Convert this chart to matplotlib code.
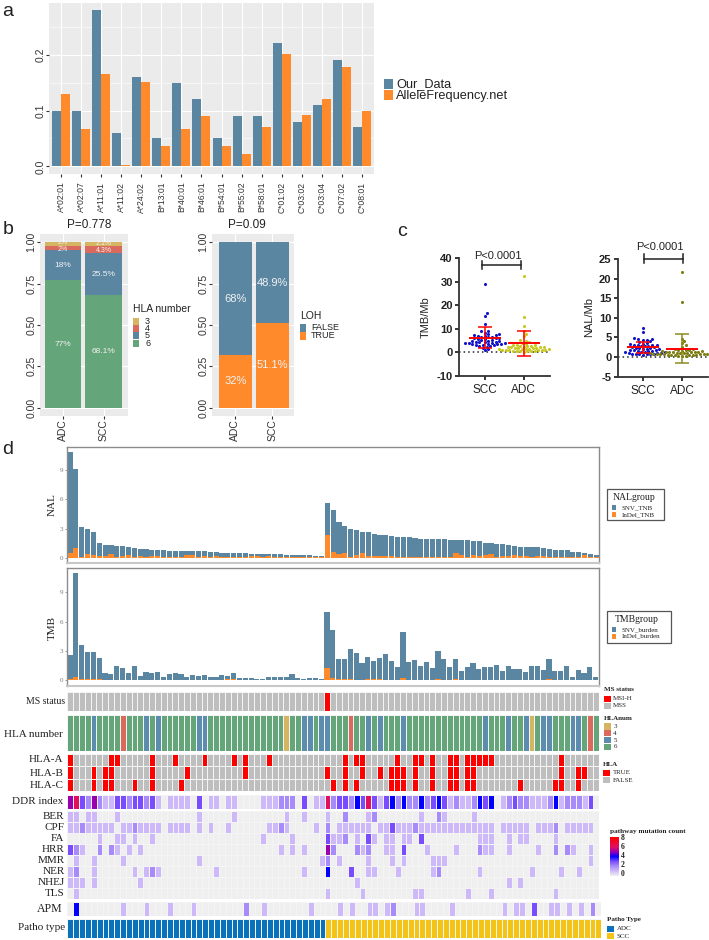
import matplotlib
matplotlib.use("Agg")
import matplotlib.pyplot as plt
import numpy as np
from matplotlib.colors import ListedColormap, BoundaryNorm, LinearSegmentedColormap, Normalize
from matplotlib.patches import Rectangle

W, H = 709, 940
plt.rcParams['font.family'] = ['Liberation Sans', 'DejaVu Sans']
SERIF = ['Liberation Serif', 'DejaVu Serif']
BLUE, ORANGE = '#5A86A2', '#FE8A2C'
TXT = '#333333'

# ---------- panel a
alleles = ["A*02:01","A*02:07","A*11:01","A*11:02","A*24:02","B*13:01","B*40:01","B*46:01",
           "B*54:01","B*55:02","B*58:01","C*01:02","C*03:02","C*03:04","C*07:02","C*08:01"]
our_data = [.100,.100,.280,.060,.160,.050,.150,.120,.050,.090,.090,.220,.080,.110,.190,.070]
allele_freq = [.130,.0675,.165,.003,.151,.036,.066,.090,.037,.022,.071,.202,.0925,.1205,.178,.099]

# ---------- panel b
groups = ["ADC", "SCC"]
hla_levels = ["3", "4", "5", "6"]
hla_six = [.77, .68]
hla_five = [.184, .255]
hla_four = [.024, .043]
hla_three = [.022, .021]
hla_six_lab = ["77%", "68.1%"]
hla_five_lab = ["18%", "25.5%"]
hla_four_lab = ["2%", "4.3%"]
hla_three_lab = ["2%", "2.1%"]
loh_true = [.32, .511]
loh_false = [.68, .489]
loh_true_lab = ["32%", "51.1%"]
loh_false_lab = ["68%", "48.9%"]

# ---------- panel c
tmb_scc = [29,16.5,15.3,12,9.2,8.9,8.4,7.9,7.6,7.4,7.2,7.0,6.9,6.7,6.5,6.4,6.2,6.0,5.9,5.7,5.5,5.4,5.2,5.0,4.9,4.8,4.6,4.5,4.4,4.2,
           4.1,4.0,3.9,3.8,3.7,3.6,3.5,3.4,3.3,3.2,3.0,2.9,2.7,2.5,2,1.5,1]
tmb_adc = [32.3,15,11,9,8,7,5.2,4.9,4.5,4.1,3.6,3.3,3.1,3.0,2.9,2.7,2.6,2.5,2.4,2.3,2.2,2.1,2.0,1.9,1.8,1.7,1.6,1.5,1.45,1.4,1.3,1.2,1.15,1.1,
           1.0,.9,.85,.8,.7,.6,.55,.5,.4,.3]
nal_scc = [7.3,6.5,4.8,4.6,4.5,4.4,4.3,4,3.8,3.6,3.4,3.3,3.2,3.1,3,3,2.9,2.8,2.7,2.6,2.5,2.4,2.3,2.2,2.1,2,2,
           1.9,1.8,1.7,1.6,1.5,1.5,1.4,1.3,1.2,1.2,1.1,1,1,.9,.9,.8,.8,.7,.7,.6]
nal_adc = [21.7,14,4.7,4.1,3.5,3,2.6,2.1,2,1.9,1.8,1.7,1.6,1.5,1.5,1.4,1.4,1.3,1.3,1.2,1.2,1.1,1.1,1,1,1,
           .9,.9,.9,.8,.8,.8,.7,.7,.7,.6,.6,.6,.5,.5,.5,.4,.4,.3]
tmb_mean, tmb_up, tmb_lo = [6.2, 3.8], [10.8, 9.1], [1.7, -1.5]
nal_mean, nal_up, nal_lo = [2.55, 2.0], [3.9, 5.8], [1.1, -1.6]

# ---------- panel d bars
nal_total = [10.9,9.1,3.2,2.9,2.6,1.55,1.3,1.3,1.25,1.25, 1.1,1.0,.88,.85,.8,.78,.75,.72,.72,.72,
             .7,.68,.68,.65,.6,.55,.5,.5,.48,.46, .45,.4,.38,.36,.36,.36,.34,.3,.28,.26, .25,.24,.18,.15,
             5.6,4.85,3.65,3.3,2.95,2.8,2.65,2.6,2.4,2.35, 2.35,2.25,2.15,2.1,2.1,2.0,1.95,1.9,1.9,1.9,
             1.88,1.85,1.85,1.85,1.8,1.75,1.7,1.5,1.47,1.44, 1.37,1.3,1.17,1.13,1.1,1.06,1.06,.96,.85,.82,
             .78,.75,.62,.62,.48,.42,.25]
nal_indel = [.45,1.05,.1,.4,.3,.2,.15,.4,.1,.2, .3,.08,.15,.12,.2,.18,.05,.03,.05,.03,
             .25,.3,.05,.2,.05,.2,.1,.1,.05,.1, .05,.2,.15,.05,.2,.03,.03,.03,.1,.1, .05,.1,.1,.03,
             2.3,.6,.35,.5,.08,.3,.45,.2,.2,.15, .2,.15,.1,.1,.08,.08,.1,.08,.1,.05,
             .05,.08,.5,.25,.08,.25,.2,.25,.4,.08, .15,.15,.25,.2,.2,.1,.15,.15,.1,.1,
             .1,.1,.1,.05,.25,.03,.05]
tmb_total = [2.6,10.95,3.6,2.85,2.85,2.3,.7,.65,1.5,1.25, .72,1.45,.45,.88,.8,.87,.38,.68,.72,.68,
             .3,.55,.4,.5,.33,.33,.55,.45,.7,.27, .23,.23,.17,.17,.33,.33,.3,.38,.6,.28, .15,.28,.22,.13,
             6.95,5.1,2.15,2.15,3.2,2.75,1.8,2.4,1.95,2.25, 2.65,2.0,1.4,4.95,1.9,2.05,1.45,1.85,1.25,2.95,
             2.2,1.4,2.15,1.0,1.4,1.75,1.15,1.4,1.35,1.55, 1.0,1.45,1.2,1.15,.9,1.45,1.45,1.1,2.2,1.0,
             1.0,1.5,.35,1.1,.8,1.4,.3]
tmb_indel = [.12,.3,.12,.1,.12,.1,.04,.04,.04,.04, .04,.04,.04,.04,.04,.04,.03,.03,.03,.03,
             .03,.03,.03,.03,.03,.03,.03,.1,.1,.03, .03,.03,.03,.03,.03,.03,.03,.03,.03,.03, .03,.03,.03,.03,
             1.3,.2,.12,.1,.1,.05,.05,.1,.1,.1, .08,.05,.05,.2,.05,.05,.05,.05,.05,.12,
             .05,.05,.15,.05,.05,.05,.05,.05,.05,.05, .05,.05,.05,.05,.03,.05,.05,.05,.12,.03,
             .03,.03,.03,.03,.03,.03,.03]
nal_ticks = [0, 3, 6, 9]

# ---------- panel d tiles (columns with a non-default value)
n_adc, n_scc = 44, 47
msi_cols = [44]
hla3_cols = [37, 79]
hla4_cols = [9, 48, 89]
hla5_cols = [4,13,15,22,23,40,41,43,44,51,53,57,71,75,78,81,82,86,87]
hla_a_cols = [0,7,8,14,18,23,28,30,34,47,49,50,56,59,60,62,65,66,68,69,70,71,72,84]
hla_b_cols = [0,4,6,7,14,20,30,44,47,50,53,55,56,57,59,62,65,66,68,69,84,87,88]
hla_c_cols = [0,4,6,7,11,14,19,45,47,49,55,56,57,59,62,65,66,68,69,77,83,84,87]
ddr_index = [5,6,3,2,5,2,1,1,3,3, 2,3,3,2,3,1,0,1,1,1, 1,0,3,0,1,1,0,1,1,0, 0,0,0,1,1,1,2,2,2,0,
             3,0,1,1,6,2,3,3,2,4, 3,6,3,1,3,4,2,4,2,2, 4,2,3,4,3,1,2,1,1,2, 4,3,4,0,1,2,3,2,2,1,
             1,1,2,4,1,2,2,2,1,3, 0]
ber = {0:1,1:1,3:1,4:1,8:1,22:1,28:1,37:1,40:1,44:1,47:2,51:1,52:2,60:1,63:2,64:1,69:1}
cpf = {0:1,1:1,2:2,3:1,4:1,5:1,6:1,7:1,9:1,10:1,11:2,12:1,13:1,14:1,15:1,17:1,18:1,19:1,20:1,22:1,24:1,27:1,
       34:1,35:1,36:2,37:1,42:1,44:2,46:1,47:1,48:1,49:1,50:1,51:1,53:1,54:1,55:3,56:1,57:1,58:1,59:2,
       60:1,61:1,62:1,63:1,64:1,65:1,66:1,67:1,68:1,69:1,70:1,71:1,72:1,74:1,75:1,76:1,77:1,78:1,
       80:1,81:1,82:1,83:2,85:1,86:1,87:1,88:1,89:1}
fa = {5:1,8:1,9:1,11:1,14:1,33:1,38:1,44:3,45:1,46:1,47:2,49:1,51:3,52:1,54:1,55:1,57:1,58:1,60:3,70:1,71:1,72:1,
      75:1,77:1,78:1,83:1}
hrr = {0:3,1:2,2:1,5:2,7:2,8:1,10:1,12:1,36:1,38:1,40:1,44:5,45:2,49:2,50:1,51:2,54:1,55:1,57:3,61:1,66:1,70:2,
       71:1,72:1,75:1,80:1,83:2,85:2,86:1,89:1}
mmr = {1:1,4:1,9:1,22:1,43:1,44:2,46:1,51:1,55:1,57:1,62:1,63:1,64:1,89:1}
ner = {0:1,1:2,4:1,11:1,13:1,14:2,15:1,25:1,40:1,44:4,48:3,51:1,52:1,56:1,62:1,63:2,70:1,79:1,84:1,87:1}
nhej = {0:1,1:1,2:1,4:1,12:1,49:1,75:1,77:1}
tls = {1:1,44:1,50:1,59:1,60:1,68:1,72:1,83:1}
apm = {1:4,9:1,13:1,17:1,21:1,30:2,33:1,41:1,46:1,48:1,51:1,52:1,54:1,55:2,59:1,60:1,65:1,74:1,76:1,77:1,79:3,
       82:1,83:1,85:1,87:1,89:2}
path_names = ["BER", "CPF", "FA", "HRR", "MMR", "NER", "NHEJ", "TLS"]
path_rows = [ber, cpf, fa, hrr, mmr, ner, nhej, tls]

fig = plt.figure(figsize=(W/100, H/100), dpi=100, facecolor='white')

def ax_px(l, t, r, b, **kw):
    return fig.add_axes([l/W, 1-b/H, (r-l)/W, (b-t)/H], **kw)

def gg(ax):
    ax.set_facecolor('#EBEBEB')
    for s in ax.spines.values():
        s.set_visible(False)
    ax.set_axisbelow(True)
    ax.grid(True, axis='y', color='white', lw=.8)
    ax.grid(True, axis='x', color='white', lw=.8)

# a
ax = ax_px(49, 3, 374, 174)
gg(ax)
x = np.arange(1, len(alleles)+1)
ax.bar(x-.225, our_data, .45, color=BLUE)
ax.bar(x+.225, allele_freq, .45, color=ORANGE)
ax.set_xlim(.4, 16.6)
ax.set_ylim(-.0137, .2925)
ax.set_yticks([0, .1, .2])
ax.set_yticks([.05, .15, .25], minor=True)
ax.grid(True, axis='y', which='minor', color='white', lw=.4)
ax.set_yticklabels(["0.0", "0.1", "0.2"], rotation=90, va='center', fontsize=7.5, color=TXT)
ax.set_xticks(x)
ax.set_xticklabels(alleles, rotation=90, fontsize=6.2, color=TXT)
ax.tick_params(axis='x', length=2, color=TXT, pad=3.5)
ax.tick_params(axis='y', length=2, color=TXT, pad=.5)
ax.tick_params(which='minor', length=0)

# b
def stacked(ax, rows, colors, labels, fs, nudges=None):
    bottom = np.zeros(2)
    nudges = nudges or [0]*len(rows)
    for vals, c, labs, nd in zip(rows, colors, labels, nudges):
        vals = np.array(vals)
        ax.bar([1, 2], vals, .9, bottom=bottom, color=c)
        for i in range(2):
            size = fs if vals[i] > .1 else fs-1
            ax.text(i+1, bottom[i]+vals[i]/2+nd, labs[i], color='#F2F2F2', fontsize=size, ha='center', va='center')
        bottom += vals
    ax.set_ylim(-.05, 1.05)
    ax.set_xticks([1, 2])
    ax.set_xticklabels(groups, rotation=90, fontsize=7.5, color=TXT)
    ax.set_yticks([0, .25, .5, .75, 1])
    ax.set_yticklabels(["0.00", "0.25", "0.50", "0.75", "1.00"], rotation=90, va='center', fontsize=7.5, color=TXT)
    ax.tick_params(length=2, color=TXT, pad=.5)

ax = ax_px(40, 234, 128, 416)
gg(ax)
stacked(ax, [hla_six, hla_five, hla_four, hla_three], ['#65A57A', BLUE, '#DA6A5E', '#D6B562'],
        [hla_six_lab, hla_five_lab, hla_four_lab, hla_three_lab], 6, [0, 0, -.007, .007])
ax.set_xlim(.43, 2.6)

ax = ax_px(212, 234, 294, 416)
gg(ax)
stacked(ax, [loh_true, loh_false], [ORANGE, BLUE], [loh_true_lab, loh_false_lab], 8)
ax.set_xlim(.37, 2.58)

# c
def swarm(vals, ypx, xpx, d=3.6):
    order = np.argsort(vals)
    placed = []
    out = np.zeros(len(vals))
    for i in order:
        yy = vals[i]*ypx
        for k in range(0, 40):
            off = ((k+1)//2) * (1 if k % 2 else -1) * d * .5
            if all((off-a)**2 + (yy-b)**2 >= (d*.8)**2 for a, b in placed):
                break
        placed.append((off, yy))
        out[i] = off/xpx
    return out

def dotplot(ax, scc, adc, means, ups, los, cadc, cerr, ypx):
    for pos, vals, c, ec in ((1, scc, '#1414C8', 'red'), (2, adc, cadc, cerr)):
        vals = np.array(vals, float)
        ax.scatter(pos+swarm(vals, ypx, 39), vals, s=5, color=c, lw=0, zorder=3)
        m, u, l = means[pos-1], ups[pos-1], los[pos-1]
        ax.errorbar(pos, m, yerr=[[m-l], [u-m]], color=ec, lw=1.1, capsize=4.8, capthick=1.1, zorder=4)
        ax.hlines(m, pos-.41, pos+.41, color='red', lw=1.4, zorder=5)
    ax.axhline(0, color='#222222', lw=1.1, ls=(0, (1, 2)), zorder=1)
    for s in ('top', 'right'):
        ax.spines[s].set_visible(False)
    for s in ('left', 'bottom'):
        ax.spines[s].set_linewidth(1.3)
        ax.spines[s].set_color('#333333')
    ax.set_xticks([1, 2])
    ax.set_xticklabels(["SCC", "ADC"], fontsize=8.5, color='#222222')
    ax.tick_params(axis='x', length=3, width=1.1, pad=3)
    ax.tick_params(axis='y', length=3, width=1.1, pad=1.5)
    ax.patch.set_alpha(0)

ax = ax_px(459, 258, 550, 376)
dotplot(ax, tmb_scc, tmb_adc, tmb_mean, tmb_up, tmb_lo, '#C8C81E', 'red', 118/50)
ax.set_xlim(.341, 2.674)
ax.set_ylim(-10, 40)
ax.set_yticks([-10, 0, 10, 20, 30, 40])
ax.set_yticklabels(["-10", "0", "10", "20", "30", "40"], fontsize=8, fontweight='bold', color='#222222')
ax.plot([.93, 1.93], [36.9, 36.9], color='#222222', lw=1.1, clip_on=False)
for xb in (.93, 1.93):
    ax.plot([xb, xb], [35.2, 38.6], color='#222222', lw=1.1, clip_on=False)

ax = ax_px(617.7, 259, 708, 376.7)
dotplot(ax, nal_scc, nal_adc, nal_mean, nal_up, nal_lo, '#7E7E14', '#8A8A1E', 117.7/30)
ax.set_xlim(.351, 2.667)
ax.set_ylim(-5, 25)
ax.set_yticks([-5, 0, 5, 10, 15, 20, 25])
ax.set_yticklabels(["-5", "0", "5", "10", "15", "20", "25"], fontsize=8, fontweight='bold', color='#222222')
ax.plot([1.03, 2.03], [25.1, 25.1], color='#222222', lw=1.1, clip_on=False)
for xb in (1.03, 2.03):
    ax.plot([xb, xb], [24, 26.2], color='#222222', lw=1.1, clip_on=False)

# d bars
def burden(ax, total, indel, top, bottom):
    xs = np.arange(1, len(total)+1)
    total, indel = np.array(total), np.array(indel)
    ax.bar(xs, indel, .88, color=ORANGE)
    ax.bar(xs, total-indel, .88, bottom=indel, color=BLUE)
    ax.set_xlim(.436, 91.51)
    ax.set_ylim(bottom, top)
    ax.set_xticks([])
    ax.set_yticks(nal_ticks)
    ax.set_yticklabels([str(v) for v in nal_ticks], fontsize=5, color='#777777', family=SERIF)
    ax.tick_params(axis='y', length=1.5, width=.5, color='#777777', pad=1)
    for s in ax.spines.values():
        s.set_color('#8C8C8C')
        s.set_linewidth(1.0)
    ax.spines['bottom'].set_color('#C8C8C8')
    ax.spines['bottom'].set_linewidth(1.5)

burden(ax_px(66.7, 446.7, 599.3, 562.7), nal_total, nal_indel, 11.4, -.51)
burden(ax_px(66.7, 568.3, 598.7, 685.7), tmb_total, tmb_indel, 11.46, -.55)

# d tiles
n = n_adc + n_scc
def tiles(t, b, matrix, cmap, norm, r=598.7, l=67.3):
    ax = ax_px(l, t, r, b)
    m = np.atleast_2d(matrix)
    ax.pcolormesh(np.arange(n+1), np.arange(m.shape[0]+1), m, cmap=cmap, norm=norm,
                  edgecolors='#F4F4F4', linewidth=.55)
    ax.invert_yaxis()
    ax.set_axis_off()
    return ax

def flags(cols):
    v = np.zeros(n)
    v[list(cols)] = 1
    return v

two = ListedColormap(['#BEBEBE', '#FF0000'])
two_norm = BoundaryNorm([-.5, .5, 1.5], 2)
tiles(691.7, 711, flags(msi_cols), two, two_norm)

hla_num = np.full(n, 6.0)
hla_num[hla3_cols] = 3
hla_num[hla4_cols] = 4
hla_num[hla5_cols] = 5
tiles(715, 751, hla_num, ListedColormap(['#D6B562', '#DA6A5E', '#5C8CAE', '#65A57A']),
      BoundaryNorm([2.5, 3.5, 4.5, 5.5, 6.5], 4))
tiles(754, 791, np.vstack([flags(hla_a_cols), flags(hla_b_cols), flags(hla_c_cols)]), two, two_norm)

path_colors = [(0, '#EFEFEF'), (1/8, '#CDB9F9'), (2/8, '#A78BFA'), (3/8, '#7A4DFF'), (4/8, '#0000FF'),
               (5/8, '#9A00B0'), (6/8, '#E01060'), (1, '#FF0000')]
path_cmap = LinearSegmentedColormap.from_list('path', path_colors)
path_norm = Normalize(0, 8)

def sparse(d):
    v = np.zeros(n)
    for k, val in d.items():
        v[k] = val
    return v

tiles(795, 808.5, np.array(ddr_index, float), path_cmap, path_norm, r=599.3)
tiles(811, 899, np.vstack([sparse(d) for d in path_rows]), path_cmap, path_norm, r=599.3)
tiles(902.3, 915.7, sparse(apm), path_cmap, path_norm, r=601.3)
tiles(919.3, 938.3, np.r_[np.zeros(n_adc), np.ones(n_scc)],
      ListedColormap(['#0A72BA', '#F3C316']), two_norm, r=601.3)

# overlay for free text, legends
ov = ax_px(0, 0, W, H)
ov.set_xlim(0, W)
ov.set_ylim(H, 0)
ov.set_axis_off()
ov.patch.set_alpha(0)
ov.set_zorder(10)

def txt(x, y, s, size=8, ha='left', va='center', **kw):
    kw.setdefault('color', '#222222')
    ov.text(x, y, s, fontsize=size, ha=ha, va=va, **kw)

def key(x0, y0, x1, y1, c):
    ov.add_patch(Rectangle((x0, y0), x1-x0, y1-y0, color=c, lw=0))

for s, x0, y0 in (("a", 8, 11), ("b", 8, 230), ("c", 402, 231), ("d", 8, 449)):
    txt(x0, y0, s, 14, ha='center')

key(384, 79, 393, 89, BLUE); key(384, 90, 393, 100, ORANGE)
txt(396, 84.5, "Our_Data", 9.2); txt(396, 95.5, "AlleleFrequency.net", 9.2)

txt(89, 225, "P=0.778", 8.5, ha='center'); txt(247, 225, "P=0.09", 8.5, ha='center')
txt(133, 309, "HLA number", 7.5)
for i, (lab, c) in enumerate(zip(hla_levels, ['#D6B562', '#DA6A5E', BLUE, '#65A57A'])):
    key(133, 317.5+7.4*i, 139, 324.6+7.4*i, c)
    txt(145, 321+7.4*i, lab, 6.5)
txt(300, 316, "LOH", 7.5)
key(300, 324, 306, 331.6, BLUE); key(300, 332, 306, 340, ORANGE)
txt(311, 328, "FALSE", 6.5); txt(311, 336, "TRUE", 6.5)

txt(497.7, 256, "P<0.0001", 8, ha='center')
txt(660, 247, "P<0.0001", 8, ha='center')
txt(426, 317, "TMB/Mb", 8, ha='center', rotation=90)
txt(588.7, 317, "NAL/Mb", 8, ha='center', rotation=90)

sf = dict(family=SERIF)
txt(52, 505, "NAL", 8, ha='center', rotation=90, **sf)
txt(52, 628, "TMB", 8, ha='center', rotation=90, **sf)
txt(65, 701.7, "MS status", 7, ha='right', **sf)
txt(63, 734.5, "HLA number", 8, ha='right', **sf)
for lab, y0 in (("HLA-A", 760), ("HLA-B", 773), ("HLA-C", 785), ("DDR index", 801.5)):
    txt(63.5, y0, lab, 8, ha='right', **sf)
for i, lab in enumerate(path_names):
    txt(64.5, 816.5+11*i, lab, 8, ha='right', **sf)
txt(63, 909, "APM", 8.5, ha='right', **sf)
txt(65.5, 927.5, "Patho type", 8, ha='right', **sf)

# legends in d
ov.add_patch(Rectangle((607.3, 489), 56.7, 31, fc='white', ec='#555555', lw=.9))
txt(612.7, 497, "NALgroup", 7, **sf)
key(612, 505, 616.3, 510, BLUE); key(612, 512, 616.3, 517, ORANGE)
txt(622, 507.5, "SNV_TNB", 5, **sf); txt(622, 514.5, "InDel_TNB", 5, **sf)
ov.add_patch(Rectangle((607.3, 611.3), 63.4, 31.4, fc='white', ec='#555555', lw=.9))
txt(614.7, 619, "TMBgroup", 7, **sf)
key(612, 627, 616.3, 632, BLUE); key(612, 633.7, 616.3, 638.7, ORANGE)
txt(622, 629.5, "SNV_burden", 5, **sf); txt(622, 636, "InDel_burden", 5, **sf)

bold = dict(family=SERIF, fontweight='bold')
txt(603.7, 689.7, "MS status", 5, **bold)
key(603.7, 695.7, 611, 702.3, '#FF0000'); key(603.7, 702.7, 611, 709, '#BEBEBE')
txt(613.3, 699, "MSI-H", 5, **sf); txt(613.3, 705.7, "MSS", 5, **sf)
txt(603.7, 718, "HLAnum", 5, **bold)
for i, (lab, c) in enumerate(zip(hla_levels, ['#D6B562', '#DA6A5E', '#5C8CAE', '#65A57A'])):
    key(603.7, 723.3+6.8*i, 611, 729.6+6.8*i, c)
    txt(613.3, 726.5+6.8*i, lab, 5, **sf)
txt(602.7, 764, "HLA", 5, **bold)
key(602.7, 769.7, 610, 776.3, '#FF0000'); key(602.7, 777, 610, 783, '#BEBEBE')
txt(612.7, 773, "TRUE", 5, **sf); txt(612.7, 780, "FALSE", 5, **sf)
txt(610, 831.3, "pathway mutation count", 5.2, **bold)
cax = ax_px(610, 837.3, 619, 875.7)
cax.imshow(np.linspace(8, 0, 64)[:, None], cmap=path_cmap, norm=path_norm, aspect='auto')
cax.set_axis_off()
for lab, y0 in (("8", 838.3), ("6", 847.3), ("4", 856.3), ("2", 865.3), ("0", 874.3)):
    txt(621, y0, lab, 5.5, **bold)
txt(606.7, 919.3, "Patho Type", 5, **bold)
key(606.7, 925.7, 614, 932, '#0A72BA'); key(606.7, 933, 614, 939.3, '#F3C316')
txt(616.7, 928.7, "ADC", 5, **sf); txt(616.7, 936, "SCC", 5, **sf)

fig.savefig("out.png", dpi=100)
